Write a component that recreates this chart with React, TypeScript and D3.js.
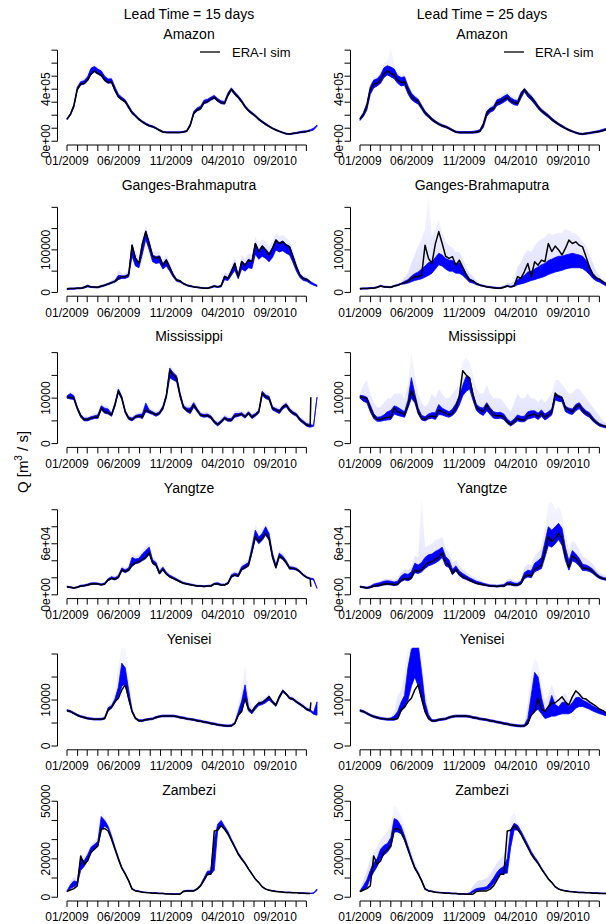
import * as d3 from "d3";

// Discharge in 1000 m3/s, sampled every 10 days starting 01/01/2009
const sampleDays = d3.range(0, 731, 10);

const riverNames = ["Amazon", "Ganges-Brahmaputra", "Mississippi", "Yangtze", "Yenisei", "Zambezi"];
const leadTitles = ["Lead Time = 15 days", "Lead Time = 25 days"];

// ERA-I simulation (black line)
const amazonSim = [170,206,270,399,440,445,470,517,540,522,509,470,452,457,393,342,322,304,260,219,194,168,148,132,119,112,99,84,71,68,68,68,68,68,71,78,124,214,240,252,296,304,322,337,312,296,291,355,399,363,337,304,265,235,214,194,168,148,130,114,99,86,76,66,58,55,60,63,68,70,75,82,90,100];
const gangesSim = [8.6,9,9,10,10,12,15,13,12.5,12,15,17,20,23,26,33,37,37,41,111,80,68,114,143,115,85,80,84,64,76,59,41,29,27,21,17,15,13,12,11,10,10,12,15,13,15,37,33,49,68,37,72,64,76,72,115,96,109,100,88,104,123,115,119,111,107,84,60,41,33,31,25,20,16];
const missSim = [10.3,10.1,10.0,7.8,6.1,5.3,5.3,5.6,5.8,5.8,7.8,7.0,6.8,6.3,8.5,11.6,10.0,7.0,5.6,5.3,5.9,6.1,5.8,7.4,7.0,6.7,6.3,6.7,7.8,10.5,16.0,15.1,14.4,10.7,8.0,7.4,7.0,8.5,7.3,6.3,6.1,6.2,5.8,4.8,4.2,4.8,5.6,5.2,5.2,6.1,6.3,6.5,5.9,6.7,5.8,6.3,7.0,11.1,10.3,10.0,7.8,7.4,7.0,8.0,8.5,7.4,6.7,6.3,5.3,4.7,4.1,3.9,3.7,3.6];
const yangtzeSim = [9.6,8.8,8.0,8.8,10.3,10.7,11.5,12.7,13.1,12.7,11.9,12.7,17.4,19.4,18.2,20.5,29.2,27.2,29.2,35,37.8,39,41.7,44,49.6,37.8,35,25.2,30,24.5,21.3,19.4,17.4,15.4,13.5,12.7,11.9,11.1,10.3,10.3,9.9,10.3,10.3,12.7,12.7,11.5,11.5,13.5,21.3,23.3,22.1,30,32.3,35,50.8,68.4,62.6,66.5,72.3,66.5,44.9,32.3,45.6,42.9,37.8,31.1,31.1,30,27.2,23.3,20.5,19,18.2,17.4];
const yeniseiSim = [7.7,7.5,7.1,6.7,6.4,6.2,6.0,5.9,5.8,5.8,5.8,6.0,7.8,8.4,9.6,10.4,12.2,13.3,10.4,7.5,6.0,5.5,5.5,5.7,5.8,5.9,6.2,6.4,6.5,6.5,6.5,6.5,6.4,6.2,6.1,5.9,5.8,5.7,5.5,5.4,5.2,5.1,4.9,4.8,4.6,4.5,4.4,4.35,4.4,4.9,6.7,7.5,10.4,8.0,7.5,8.6,9.3,9.4,10.0,10.7,9.6,8.9,10.7,12.0,11.3,10.4,10.2,9.6,9.1,8.6,8.0,7.7,7.1,6.8];
const zambeziSim = [3.0,3.8,4.5,5.9,21.5,17.2,18.9,23.3,25,26.7,35.4,35.8,34.5,30.2,25,19.8,15.1,12.0,8.5,4.2,3.3,3.0,2.6,2.4,2.3,2.1,2.1,1.9,1.9,1.7,1.7,1.6,1.6,1.6,3.0,3.3,3.3,3.3,4.2,5.9,8.9,12.0,12.0,34.5,34.9,37.2,35.4,32.8,29.3,25.9,22.4,19.8,17.5,14.6,12.0,9.4,7.6,5.4,4.2,3.6,3.3,3.0,2.8,2.6,2.4,2.4,2.3,2.3,2.1,2.1,2.0,1.9,1.9,1.8];

// where the ERA-I curve jumps at the end of the 15-day panels
const simTail15 = [null, null, 10.2, 9.5, 9.5, null];

// forecast ensemble: dense core (lo..hi) and faint upper members (top)
const amazonLo15 = [165,200,262,392,432,438,462,510,532,515,500,462,445,448,385,335,315,297,253,212,188,162,143,127,114,107,95,80,67,64,64,64,64,64,67,74,118,206,232,244,288,296,314,328,305,289,284,346,390,355,330,297,258,228,207,188,162,143,125,109,95,82,72,62,54,51,56,59,64,66,72,78,86,115];
const amazonHi15 = [175,214,282,415,458,465,495,560,575,555,540,500,478,480,418,362,338,318,274,230,204,176,156,140,126,118,105,90,76,72,72,72,72,72,76,84,135,228,256,268,315,322,338,352,328,310,305,372,410,378,350,316,275,245,222,202,176,156,138,120,104,91,80,70,62,59,64,68,74,78,80,88,100,125];
const amazonTop15 = [180,222,292,430,475,485,515,590,600,575,560,515,492,495,430,372,348,328,284,240,212,184,163,146,132,124,110,94,80,76,76,76,76,76,80,88,142,240,268,280,328,334,350,365,340,322,318,385,422,390,362,326,284,252,230,208,182,162,143,125,108,95,84,73,65,62,67,71,78,82,85,93,105,130];
const amazonLo25 = [160,190,240,360,410,425,445,490,510,495,480,445,425,430,365,320,300,285,245,205,182,158,140,125,112,104,92,78,66,62,62,62,62,62,64,70,105,190,222,235,275,285,300,318,295,280,275,330,380,340,315,285,250,222,202,182,158,140,122,107,93,80,70,60,53,50,54,57,62,66,72,78,85,92];
const amazonHi25 = [178,220,290,420,470,480,510,565,580,570,555,505,490,495,425,370,342,322,276,232,206,178,157,140,127,119,106,91,77,74,74,74,74,76,80,88,140,230,255,268,318,328,345,360,335,318,312,375,405,375,348,315,276,246,225,204,178,157,138,122,106,92,81,71,63,60,65,68,74,78,84,92,100,108];
const amazonTop25 = [185,232,305,440,490,500,535,600,620,713,590,530,512,515,445,388,358,338,290,244,216,187,165,148,134,125,112,96,82,78,78,78,78,80,85,94,150,245,272,285,338,348,365,380,355,338,330,392,420,392,364,330,290,258,236,214,187,165,146,129,112,98,86,76,68,65,70,73,79,84,90,98,106,114];

const gangesLo15 = [7,7.5,7.5,8.5,8.5,10,13,11.5,11,10.5,13,15,18,21,24,30,33,33,36,85,62,58,90,125,100,72,68,70,55,62,50,36,26,24,19,15.5,13.5,12,11,10,9,9,10.5,13,11.5,13,30,28,40,52,32,55,50,58,56,90,78,85,80,72,82,100,95,98,92,88,70,50,35,28,26,21,17,14];
const gangesHi15 = [9.5,10,10,11,11,13,17,14,13.5,13,16,18,21,24.5,28,40,39,39,44,112,82,70,115,145,118,88,84,86,67,78,61,43,31,28,22,18,16,14,13,12,11,11,13,16,14,17,39,35,52,70,40,74,66,78,74,116,98,110,102,92,105,124,117,121,113,109,86,62,43,35,32,26,21,17];
const gangesTop15 = [10,11,11,12,12,14,19,16,15,15,18,21,24,28,32,52,45,45,52,125,95,82,130,160,132,100,95,96,76,88,70,50,35,31,24,20,18,16,15,14,13,13,15,18,16,20,48,42,62,85,50,88,80,92,88,130,112,125,118,108,120,140,132,135,128,122,100,72,50,40,36,29,24,19];
const gangesLo25 = [7.6,8,8,9,9,11,14,12,11.5,11,14,16,19,20,22,25,28,30,32,36,40,45,55,65,62,55,50,50,45,45,40,32,24,22,18,16,14,12,11,10,9,9,11,14,12,14,18,20,22,25,28,30,33,35,38,42,45,48,50,52,55,57,58,58,58,56,50,42,33,27,24,19,15,12];
const gangesHi25 = [10,10.5,10.5,11.5,11.5,13.5,16.5,14.5,14,13.5,16.5,18.5,21.5,26,30,38,44,48,55,62,70,72,82,92,88,80,76,75,68,70,60,45,32,28,22,18.5,16.5,14.5,13.5,12.5,11.5,11.5,13.5,16.5,14.5,16.5,30,35,40,48,50,55,60,65,68,75,78,82,85,85,88,90,92,90,88,85,75,60,45,36,31,25,20,16];
const gangesTop25 = [11,11.5,11.5,12.5,12.5,15,18,16,15.5,15,18,21,25,35,45,70,90,110,125,150,230,130,150,170,140,120,110,105,95,95,80,60,45,38,28,21,19,17,16,15,14,14,17,22,22,28,60,70,90,100,95,110,120,125,130,140,135,138,140,140,150,145,140,138,130,120,110,90,70,50,40,30,24,19];

const missLo15 = [10.0,9.8,9.7,7.5,5.8,5.0,5.0,5.3,5.5,5.5,7.4,6.7,6.5,6.0,8.2,11.2,9.7,6.7,5.3,5.0,5.6,5.8,5.5,7.0,6.7,6.4,6.0,6.4,7.5,10.0,14.5,14.0,13.6,10.2,7.7,7.0,6.6,8.0,7.0,6.0,5.8,5.9,5.5,4.5,3.9,4.5,5.3,4.9,4.9,5.8,6.0,6.2,5.6,6.4,5.5,6.0,6.7,10.6,9.9,9.6,7.4,7.0,6.6,7.6,8.1,7.0,6.4,6.0,5.0,4.4,3.8,3.6,3.8,10.2];
const missHi15 = [10.5,11.0,10.5,8.1,6.4,5.6,5.6,5.9,6.1,6.3,8.3,7.8,7.6,6.6,8.9,12.0,10.4,7.3,5.9,5.6,6.2,6.4,6.5,8.9,7.4,7.0,6.6,7.0,8.2,10.8,16.6,15.6,14.9,11.2,8.4,7.8,7.8,9.0,7.7,6.6,6.4,6.5,6.1,5.1,4.5,5.1,5.9,5.5,5.5,6.6,6.6,6.8,6.2,7.0,6.2,6.6,7.3,11.5,10.7,10.4,8.1,7.7,7.4,8.3,8.8,7.7,7.0,6.6,5.6,5.0,4.4,4.2,4.0,10.2];
const missTop15 = [10.8,11.5,11,8.5,6.8,6,6,6.3,6.6,6.8,8.8,8.4,8.2,7.1,9.5,12.8,11,7.8,6.3,6,6.7,6.9,7,9.5,8,7.5,7.1,7.5,8.8,11.5,17.5,16.5,15.5,12,9,8.3,8.5,9.6,8.2,7,6.8,7,6.6,5.5,4.9,5.6,6.5,6,6,7.2,7.1,7.3,6.6,7.5,6.7,7.1,7.8,12.2,11.3,11,8.6,8.2,7.9,8.8,9.3,8.2,7.5,7,6,5.4,4.8,4.6,4.3,10.4];
const missLo25 = [10.0,9.3,9.0,7.0,5.5,4.9,4.9,5.1,5.2,5.3,6.5,6.2,6.0,5.8,7.8,10.0,9.0,6.5,5.2,5.0,5.4,5.6,5.3,6.4,6.3,6.0,5.8,6.2,7.0,8.5,10.5,11.5,12.0,9.5,7.3,6.6,6.2,7.2,6.4,5.6,5.5,5.6,5.3,4.4,3.9,4.4,5.0,4.8,4.8,5.4,5.6,5.8,5.3,6.0,5.2,5.7,6.3,9.6,9.3,9.2,7.0,6.6,6.4,7.2,7.7,6.8,6.2,5.8,4.9,4.3,3.8,3.6,3.4,3.3];
const missHi25 = [10.6,10.5,10.2,8.5,6.6,5.8,5.9,6.3,7.0,7.3,8.3,8.0,7.5,7.0,9.5,14.5,11.0,7.8,6.2,5.9,6.5,6.8,6.8,8.6,7.8,7.4,7.0,7.6,8.8,10.5,12.8,14.8,14.5,11.0,8.6,8.0,7.8,9.0,7.9,7.0,6.8,6.9,6.5,5.4,4.8,5.4,6.3,6.0,6.0,7.0,7.2,7.2,6.7,7.4,6.5,7.0,7.6,10.8,10.6,10.3,8.2,7.8,7.6,8.6,9.0,8.0,7.2,6.8,5.8,5.0,4.4,4.1,3.9,3.7];
const missTop25 = [11,13,14,11,9,8,8,9,10,10,11,11,11,10,13,20,15,11,9,8,9,11,10,12,11,10,10,11,12,13,18,19,18,15,12,11,11,13,11,10,10,10,9,8,7,9,11,10,10,11,10,10,9,10,9,10,11,14,14,13,12,11,11,12,12,11,10,9,8,7,6,5,4.5,4.2];

const yangtzeLo15 = [9.0,8.2,7.5,8.3,9.7,10.1,10.9,12.0,12.4,12.0,11.2,12.0,16.6,18.5,17.4,19.6,28,26,28,33.5,36.5,37.5,40,42.5,47.5,36.5,33.8,24.3,29,23.6,20.5,18.7,16.8,14.9,13.0,12.2,11.4,10.6,9.8,9.8,9.4,9.8,9.8,12.1,12.1,11.0,11.0,12.9,20.4,22.3,21.2,28.8,31,33.6,49,66,60,64,70,64,43,31,44,41.5,36.5,30,30,29,26.2,22.4,19.7,18.3,17.5,7.6];
const yangtzeHi15 = [10.2,9.4,8.6,9.6,11.2,11.6,12.6,14.0,14.2,13.8,12.8,13.8,19.0,21.2,20.0,22.5,31.5,29.5,31.5,44,42,43,48,52,56,41,38,27.5,32.5,26.5,23,21,18.8,16.6,14.5,13.6,12.8,11.9,11.0,11.0,10.6,11.0,11.2,13.6,14.2,12.5,12.4,14.6,23.5,25.5,24.2,33,35.5,38,56,76,68,72,80,72,49,35,49,45.5,40,33,32.5,31.2,28.2,24.2,21.3,19.7,18.9,8.0];
const yangtzeTop15 = [11,10,9.5,10.5,12,12.5,13.5,15,15.5,15,14,15,20.5,23,22,25,34,32,34,48,46,47,52,57,61,45,41,30,35,29,25,23,20.5,18,16,15,14,13,12,12,11.5,12,12.5,15,16,14,14,16.5,26,28,27,36,39,42,62,83,75,78,86,78,54,38,53,49,43,35,34.5,33,30,26,23,21,20.5,8.5];
const yangtzeLo25 = [9.0,8.0,7.3,8.0,9.5,9.8,10.5,11.5,12.0,11.5,10.8,11.5,15.5,17.5,16.5,18.5,26,25,27,31,34,35.5,37.5,40,44,34,32,23.5,28,22.5,19.5,18,16,14.5,12.8,12,11.2,10.4,9.6,9.6,9.2,9.6,9.6,11.5,11.5,10.5,10.5,12.2,19,21,20,27,29,31,44,58,56,60,65,58,40,29,40,38,34,28.5,28.5,27.5,25,21.5,19,17.8,17,16.4];
const yangtzeHi25 = [10.3,9.6,9.0,10.2,12.5,13.5,14.5,16,16.5,16,15,16,22,25,24,27,37,35,38,44,47,48,51,53,56,45,41,30,34,28,25,22.5,20,18,16,14.8,13.6,12.5,11.5,11.4,11,11.5,12,15,15.5,13.8,13.5,16,26,29,28,37,40,44,62,80,76,80,84,78,55,40,52,48,43,36,35,33,30,25.5,22,20.4,19.4,18];
const yangtzeTop25 = [11,10.5,10,11.5,14,15,16.5,18.5,19,18.5,17.5,19,27,30,29,33,46,44,115,56,58,60,64,66,68,55,50,37,41,34,30,27,24,21,19,17,15.5,14,13,13,12.5,13,14,18,19,16.5,16,19,32,36,35,46,50,56,80,108,110,100,104,95,70,52,64,60,54,45,43,40,36,30,26,24,22,20];

const yeniseiLo15 = [7.55,7.35,6.95,6.55,6.25,6.05,5.85,5.75,5.65,5.65,5.65,5.85,7.6,8.2,9.4,10.8,13.0,13.5,10.0,7.3,5.85,5.35,5.35,5.55,5.65,5.75,6.05,6.25,6.35,6.35,6.35,6.35,6.25,6.05,5.95,5.75,5.65,5.55,5.35,5.25,5.05,4.95,4.75,4.65,4.45,4.35,4.25,4.2,4.25,4.75,6.5,7.6,10.2,7.6,7.0,8.0,8.8,9.0,9.4,10.0,9.3,8.6,10.3,11.7,11.1,10.2,10.0,9.4,8.9,8.4,7.8,7.5,6.9,6.7];
const yeniseiHi15 = [7.9,7.7,7.3,6.9,6.6,6.4,6.2,6.1,6.0,6.0,6.0,6.2,8.3,8.8,10.2,12.8,18.0,17.0,12.2,7.8,6.2,5.7,5.7,5.9,6.0,6.1,6.4,6.6,6.7,6.7,6.7,6.7,6.6,6.4,6.3,6.1,6.0,5.9,5.7,5.6,5.4,5.3,5.1,5.0,4.8,4.7,4.6,4.55,4.6,5.1,7.4,9.8,13.3,8.5,7.6,8.7,9.5,9.6,10.2,10.9,9.8,9.1,10.9,12.2,11.5,10.6,10.4,9.8,9.3,8.8,8.2,7.9,7.3,9.6];
const yeniseiTop15 = [8.1,7.9,7.5,7.1,6.8,6.6,6.4,6.3,6.2,6.2,6.3,6.6,8.8,9.5,11.5,17,22,22,15,9,6.5,5.9,5.9,6.1,6.2,6.3,6.6,6.8,6.9,6.9,6.9,6.9,6.8,6.6,6.5,6.3,6.2,6.1,5.9,5.8,5.6,5.5,5.3,5.2,5.0,4.9,4.8,4.75,4.8,5.6,9,12,17.6,11,8.5,9.2,10,10.1,10.7,11.4,10.3,9.6,11.4,12.7,12,11.1,10.9,10.3,9.8,9.3,8.7,8.4,7.8,9.8];
const yeniseiLo25 = [7.5,7.3,6.9,6.5,6.2,6.0,5.8,5.7,5.6,5.6,5.6,5.9,7.5,8.5,10,13,15,13,10,7.3,5.8,5.3,5.3,5.5,5.6,5.7,6.0,6.2,6.3,6.3,6.3,6.3,6.2,6.0,5.9,5.7,5.6,5.5,5.3,5.2,5.0,4.9,4.7,4.6,4.4,4.3,4.2,4.15,4.2,4.7,7.0,7.5,8.0,7.0,6.0,6.2,6.5,6.5,6.8,7.0,7.0,7.0,7.4,8.2,8.6,8.6,8.3,8.0,7.6,7.3,7.0,6.8,6.5,6.3];
const yeniseiHi25 = [7.9,7.7,7.3,6.9,6.6,6.4,6.2,6.1,6.0,6.1,6.5,7.5,9.5,11,17,21,22,22,16,9.5,6.8,5.7,5.7,5.9,6.0,6.1,6.4,6.6,6.7,6.7,6.7,6.7,6.6,6.4,6.3,6.1,6.0,5.9,5.7,5.6,5.4,5.3,5.1,5.0,4.8,4.7,4.6,4.55,4.6,6.0,11,16,15,10.5,7.5,8.5,11,9,8.5,9.5,9.5,8.6,9.4,10.5,10.6,10.0,9.6,9.2,8.7,8.3,7.9,7.6,7.2,7.0];
const yeniseiTop25 = [8.1,7.9,7.5,7.1,6.8,6.6,6.4,6.3,6.2,6.3,7.5,11,12,16,22,23,23,23,20,12,8,5.9,5.9,6.1,6.2,6.3,6.6,6.8,6.9,6.9,6.9,6.9,6.8,6.6,6.5,6.3,6.2,6.1,5.9,5.8,5.6,5.5,5.3,5.2,5.0,4.9,4.8,4.75,4.8,9,16,19,18,13,10,11,13.5,11,10,11,11.5,10,10.5,12.5,11.5,10.8,10.3,9.8,9.2,8.7,8.2,7.9,7.5,7.2];

const zambeziLo15 = [2.8,4.5,5.5,6.5,14,16,19,23,25,26.5,35,37,35.5,30.5,25,19.8,15,12,8.5,4.2,3.3,3,2.6,2.4,2.3,2.1,2.1,1.9,1.9,1.7,1.7,1.6,1.6,1.6,2.8,3.1,3.1,3.1,4,5.7,8.5,11.5,12,14,35,37.5,35.5,33,29.3,25.9,22.4,19.8,17.5,14.6,12,9.4,7.6,5.4,4.2,3.6,3.3,3,2.8,2.6,2.4,2.4,2.3,2.3,2.1,2.1,2.0,1.9,2.0,3.5];
const zambeziHi15 = [3.3,6.5,8.5,8,20,19,22,26,27.5,29,42,40,37,32,26.2,20.8,15.8,12.6,9,4.6,3.6,3.3,2.8,2.6,2.5,2.3,2.3,2.1,2.1,1.9,1.9,1.8,1.8,1.8,3.3,3.6,3.6,3.6,4.6,6.5,10,13.5,13.8,30,38,40,37,34.2,30.3,26.8,23.2,20.5,18.1,15.1,12.4,9.8,7.9,5.7,4.4,3.8,3.5,3.2,3.0,2.8,2.6,2.6,2.5,2.5,2.3,2.3,2.2,2.1,2.3,4.2];
const zambeziTop15 = [3.6,8,10.5,9.5,23,21,24,28,29.5,31,46,42.5,39,33.5,27.3,21.8,16.5,13.2,9.4,4.9,3.9,3.5,3,2.8,2.7,2.5,2.5,2.3,2.3,2.1,2.1,2,2,2,3.6,3.9,3.9,3.9,5,7.2,11,15,16,33,40,42,38.5,35.5,31.3,27.7,24,21.2,18.7,15.6,12.8,10.1,8.2,5.9,4.6,4,3.7,3.4,3.2,3,2.8,2.8,2.7,2.7,2.5,2.5,2.4,2.3,2.5,4.4];
const zambeziLo25 = [2.8,3.5,5,10,13,16,20,22,23.5,26,34,34,33,29.5,24.5,19.5,15,12,8.3,4.1,3.2,2.9,2.5,2.3,2.2,2.0,2.0,1.8,1.8,1.6,1.6,1.5,1.5,2.5,3.5,3.6,3.7,4,5,7,9.5,12,12.5,12.5,26,35,35,33,29.5,26,22.5,20,17.6,14.7,12.1,9.5,7.6,5.4,4.2,3.6,3.3,3.0,2.8,2.6,2.4,2.4,2.3,2.3,2.1,2.1,2.0,1.9,1.9,1.8];
const zambeziHi25 = [3.3,6,9,14,18,20,25,27,28,31,41,40,37,32,26.5,21,16,12.8,9,4.6,3.6,3.3,2.8,2.6,2.5,2.3,2.3,2.1,2.1,1.9,1.9,1.8,2.2,3.5,4.5,4.8,5,5.5,7.5,10,13,15,16,20,35,38.5,37.5,34.5,31,27.5,23.8,21,18.5,15.3,12.6,9.9,8,5.7,4.4,3.8,3.5,3.2,3,2.8,2.6,2.6,2.5,2.5,2.3,2.3,2.2,2.1,2.1,2];
const zambeziTop25 = [3.6,9,14,20,24,26,30,32,34,38,48,46,42,36,30,24,18.5,14.5,10,5,4,3.6,3.1,2.9,2.7,2.5,2.5,2.3,2.3,2.1,2.1,2,3,6,8,9,9,10,12,15,18,20,22,28,42,44,40,36.5,32.5,29,25,22,19.5,16,13.2,10.4,8.4,6,4.6,4,3.7,3.4,3.2,3,2.8,2.8,2.7,2.7,2.5,2.5,2.4,2.3,2.3,2.2];

// y axis: data max used for the limits, tick values and the labels R kept
const yMaxValues = [726, 222, 20.76, 111, 20.53, 49.2];
const yTickValues = [
  [0, 100, 200, 300, 400, 500, 600, 700],
  [0, 50, 100, 150, 200],
  [0, 5, 10, 15, 20],
  [0, 20, 40, 60, 80, 100],
  [0, 5, 10, 15, 20],
  [0, 10, 20, 30, 40, 50],
];
const yTickLabels: [number, string][][] = [
  [[0, "0e+00"], [400, "4e+05"]],
  [[0, "0"], [100, "100000"]],
  [[0, "0"], [10, "10000"]],
  [[0, "0e+00"], [60, "6e+04"]],
  [[0, "0"], [10, "10000"]],
  [[0, "0"], [20, "20000"], [50, "50000"]],
];

const rivers = riverNames.map((name, i) => ({
  name,
  sim: [amazonSim, gangesSim, missSim, yangtzeSim, yeniseiSim, zambeziSim][i],
  tail15: simTail15[i],
  ens: [
    [
      { lo: amazonLo15, hi: amazonHi15, top: amazonTop15 },
      { lo: gangesLo15, hi: gangesHi15, top: gangesTop15 },
      { lo: missLo15, hi: missHi15, top: missTop15 },
      { lo: yangtzeLo15, hi: yangtzeHi15, top: yangtzeTop15 },
      { lo: yeniseiLo15, hi: yeniseiHi15, top: yeniseiTop15 },
      { lo: zambeziLo15, hi: zambeziHi15, top: zambeziTop15 },
    ][i],
    [
      { lo: amazonLo25, hi: amazonHi25, top: amazonTop25 },
      { lo: gangesLo25, hi: gangesHi25, top: gangesTop25 },
      { lo: missLo25, hi: missHi25, top: missTop25 },
      { lo: yangtzeLo25, hi: yangtzeHi25, top: yangtzeTop25 },
      { lo: yeniseiLo25, hi: yeniseiHi25, top: yeniseiTop25 },
      { lo: zambeziLo25, hi: zambeziHi25, top: zambeziTop25 },
    ][i],
  ],
}));

const START = Date.UTC(2009, 0, 1);
const toDate = (d: number) => new Date(START + d * 86400000);

const FONT = "'Liberation Sans', Arial, Helvetica, sans-serif";
const ROW_H = 151.2;
const PLOT_TOP = 43;
const PLOT_BOTTOM = 145;
const COL_SHIFT = [0, 293];
const DATA_X0 = 67;
const DATA_X1 = 317;
const AXIS_X = 57.5;
const fmtMonth = d3.utcFormat("%m/%Y");

function Panel({ row, col }: { row: number; col: number }) {
  const r = rivers[row];
  const shift = COL_SHIFT[col];
  const top = row * ROW_H + PLOT_TOP;
  const bottom = row * ROW_H + PLOT_BOTTOM;
  const x = d3.scaleUtc().domain([toDate(0), toDate(730)]).range([DATA_X0 + shift, DATA_X1 + shift]);
  const yMax = yMaxValues[row];
  const y = d3.scaleLinear().domain([-0.04 * yMax, 1.04 * yMax]).range([bottom, top]);
  const ens = r.ens[col];
  const px = (i: number) => x(toDate(sampleDays[i]));

  const faint = d3.area<number>().x((_, i) => px(i)).y0((_, i) => y(ens.hi[i])).y1((v) => y(v))(ens.top);
  const core = d3.area<number>().x((_, i) => px(i)).y0((_, i) => y(ens.lo[i])).y1((v) => y(v))(ens.hi);

  let simPts: [number, number][] = sampleDays.map((d, i) => [d, r.sim[i]]);
  if (col === 0) {
    simPts = simPts.filter((p) => p[0] <= 710);
    if (r.tail15 != null) simPts.push([712, r.tail15]);
  }
  const simPath = d3.line<[number, number]>().x((p) => x(toDate(p[0]))).y((p) => y(p[1]))(simPts);

  const xTicks = d3.utcMonth.range(toDate(0), toDate(700));
  const ax = AXIS_X + shift;
  const ticks = yTickValues[row];
  const clipId = `clip-${row}-${col}`;
  const gradId = `fade-${row}-${col}`;
  const cx = 189 + shift;

  return (
    <g>
      <defs>
        <clipPath id={clipId}>
          <rect x={ax} y={top} width={270} height={bottom - top} />
        </clipPath>
        <linearGradient id={gradId} gradientUnits="userSpaceOnUse" x1={0} x2={0} y1={bottom} y2={top}>
          <stop offset="0" stopColor="#0000ff" stopOpacity={0.14} />
          <stop offset="1" stopColor="#0000ff" stopOpacity={0.03} />
        </linearGradient>
      </defs>
      <text x={cx} y={row * ROW_H + 39} textAnchor="middle" fontSize={14}>{r.name}</text>
      <g clipPath={`url(#${clipId})`}>
        <path d={faint ?? ""} fill={`url(#${gradId})`} stroke="none" />
        <path d={core ?? ""} fill="#0000ff" stroke="#0000ff" strokeWidth={0.8} strokeLinejoin="round" />
        <path d={simPath ?? ""} fill="none" stroke="#000" strokeWidth={1.5} strokeLinejoin="round" />
      </g>
      {/* y axis */}
      <line x1={ax} x2={ax} y1={y(ticks[0])} y2={y(ticks[ticks.length - 1])} stroke="#000" />
      {ticks.map((t) => (
        <line key={t} x1={ax - 6} x2={ax} y1={y(t)} y2={y(t)} stroke="#000" />
      ))}
      {yTickLabels[row].map(([v, s]) => (
        <text key={s} transform={`translate(${ax - 8},${y(v)}) rotate(-90)`} textAnchor="middle" fontSize={12}>
          {s}
        </text>
      ))}
      {/* x axis */}
      <line x1={x(xTicks[0])} x2={x(xTicks[xTicks.length - 1])} y1={bottom} y2={bottom} stroke="#000" />
      {xTicks.map((t, i) => (
        <g key={i}>
          <line x1={x(t)} x2={x(t)} y1={bottom} y2={bottom + 6} stroke="#000" />
          {i % 5 === 0 && (
            <text x={x(t)} y={bottom + 20.3} textAnchor="middle" fontSize={12}>
              {fmtMonth(t)}
            </text>
          )}
        </g>
      ))}
      {row === 0 && (
        <g>
          <line x1={[200, 504][col]} x2={[220, 524][col]} y1={52} y2={52} stroke="#000" strokeWidth={1.3} />
          <text x={[232, 535][col]} y={52} dy="0.35em" fontSize={13}>ERA-I sim</text>
        </g>
      )}
    </g>
  );
}

export default function App() {
  return (
    <svg
      width={606}
      height={924}
      style={{ position: "absolute", left: 0, top: 0, background: "#fff" }}
      fontFamily={FONT}
    >
      <rect width={606} height={924} fill="#fff" />
      {leadTitles.map((t, c) => (
        <text key={t} x={189 + COL_SHIFT[c]} y={19} textAnchor="middle" fontSize={14}>
          {t}
        </text>
      ))}
      <text transform="translate(28,462) rotate(-90)" textAnchor="middle" fontSize={15}>
        Q [m<tspan dy={-6} fontSize={10}>3</tspan>
        <tspan dy={6}> / s]</tspan>
      </text>
      {riverNames.map((_, row) =>
        [0, 1].map((col) => <Panel key={`${row}-${col}`} row={row} col={col} />)
      )}
    </svg>
  );
}
